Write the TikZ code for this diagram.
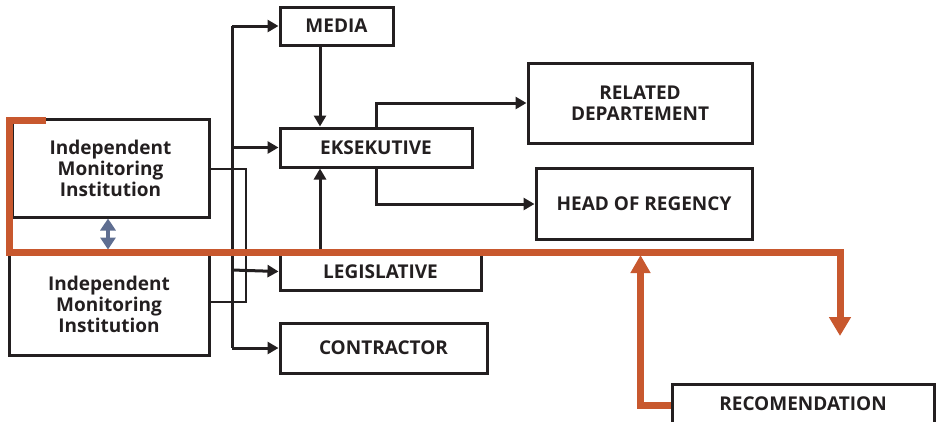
\documentclass[tikz,border=0pt]{standalone}
\usepackage{fontspec}
\setmainfont{Open Sans}
\usetikzlibrary{arrows.meta}
\definecolor{orng}{RGB}{200,88,46}
\definecolor{bgray}{RGB}{95,110,145}
\definecolor{ink}{RGB}{35,31,32}
\tikzset{
  box/.style={draw=ink, line width=3pt, inner sep=0pt, align=center, font=\fontsize{19}{21}\selectfont\bfseries, text=ink},
  conn/.style={line width=3pt, draw=ink, -{Triangle[length=11pt,width=12pt]}},
  plain/.style={line width=3pt, draw=ink},
  thin/.style={line width=1.5pt, draw=ink},
  orange/.style={line width=7pt, draw=orng, line join=miter},
}
\begin{document}
\begin{tikzpicture}[x=1pt,y=-1pt]
\useasboundingbox (0,0) rectangle (941,421);
% boxes
\node[box, minimum width=113, minimum height=38] (media) at (336.5,26) {MEDIA};
\node[box, minimum width=192, minimum height=39] (eks) at (376,147.5) {EKSEKUTIVE};
\node[box, minimum width=201, minimum height=37] (leg) at (380.5,271.5) {LEGISLATIVE};
\node[box, minimum width=207, minimum height=50] (con) at (383.5,348) {CONTRACTOR};
\node[box, minimum width=224, minimum height=80] (rel) at (640,103) {RELATED\\DEPARTEMENT};
\node[box, minimum width=216, minimum height=71] (head) at (644,203.5) {HEAD OF REGENCY};
\node[box, minimum width=197, minimum height=98] (imi1) at (110.5,168) {Independent\\Monitoring\\Institution};
\node[box, minimum width=200, minimum height=102] (imi2) at (109,304) {Independent\\Monitoring\\Institution};
\node[box, minimum width=262, minimum height=40] (rec) at (803,404) {RECOMENDATION};
% bus
\coordinate (bt) at (232,26);
\coordinate (bb) at (232,348);
\draw[plain] (bt) -- (bb);
\draw[conn] (bt) -- (media.west);
\draw[conn] (232,147.5) -- (eks.west);
\draw[conn] (232,270) -- (leg.west);
\draw[conn] (bb) -- (con.west);
% thin bracket
\draw[thin] (imi1.east |- 0,169) -- (246,169) -- (246,302) -- (imi2.east |- 0,302);
% media -> eks, leg -> eks
\draw[conn] (media.south -| 320,0) -- (eks.north -| 320,0);
\draw[conn] (320,250) -- (eks.south -| 320,0);
% eks -> rel, head
\draw[conn] (eks.north -| 376,0) -- (376,103) -- (rel.west);
\draw[conn] (eks.south -| 376,0) -- (376,204) -- (head.west |- 0,204);
% double arrow
\draw[line width=4pt, bgray, {Triangle[length=12pt,width=15pt]}-{Triangle[length=12pt,width=15pt]}] (imi1.south -| 108,0) -- (108,249.5);
% orange
\coordinate (os) at (46,120);
\coordinate (oe) at (840,336);
\draw[orange, -{Triangle[length=19pt,width=21pt]}] (os) -- (9,120) -- (9,252) -- (840,252) -- (oe);
\draw[orange, -{Triangle[length=18pt,width=19pt]}] (rec.west |- 0,405) -- (640.5,405) -- (640.5,255);
\end{tikzpicture}
\end{document}
